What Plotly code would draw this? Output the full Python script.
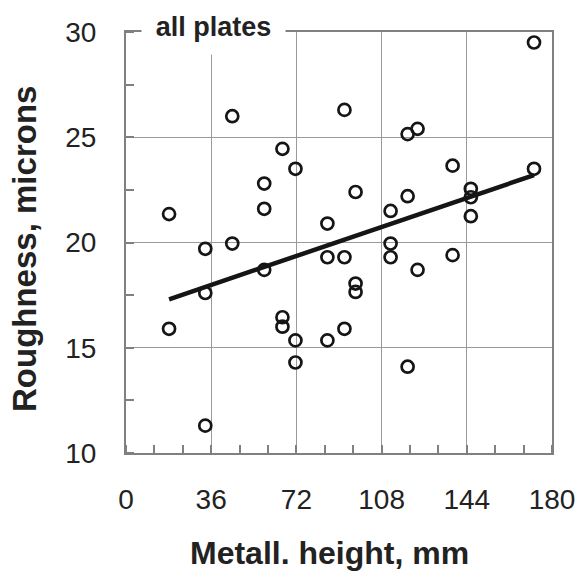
import plotly.graph_objects as go

# Data
height_mm = [18.2, 18.2, 33.5, 33.5, 33.5, 44.9, 44.9, 58.4, 58.4, 58.4,
             66.1, 66.1, 66.1, 71.6, 71.6, 71.6, 85.1, 85.1, 85.1,
             92.3, 92.3, 92.3, 97.0, 97.0, 97.0, 111.8, 111.8, 111.8,
             119.0, 119.0, 119.0, 123.2, 123.2, 138.0, 138.0,
             145.7, 145.7, 145.7, 172.4, 172.4]
roughness_um = [21.35, 15.9, 19.7, 17.6, 11.3, 26.0, 19.95, 22.8, 21.6, 18.7,
                24.45, 16.45, 16.0, 23.5, 15.35, 14.3, 20.9, 19.3, 15.35,
                26.3, 19.3, 15.9, 22.4, 18.05, 17.65, 21.5, 19.95, 19.3,
                25.15, 22.2, 14.1, 25.4, 18.7, 23.65, 19.4,
                22.55, 22.15, 21.25, 29.5, 23.5]
trend_x = [18.2, 172.4]
trend_y = [17.3, 23.2]
x_ticks = [0, 36, 72, 108, 144, 180]
y_ticks = [10, 15, 20, 25, 30]

FONT = "Liberation Sans, Arial, sans-serif"
TXT = "#222222"
FRAME = "#808080"
GRID = "#9a9a9a"

fig = go.Figure()
fig.add_trace(go.Scatter(
    x=height_mm, y=roughness_um, mode="markers",
    marker=dict(symbol="circle-open", size=12, color="#151515",
                line=dict(width=2.7, color="#151515")),
    showlegend=False, hoverinfo="skip"))
fig.add_trace(go.Scatter(
    x=trend_x, y=trend_y, mode="lines",
    line=dict(color="#151515", width=4.5),
    showlegend=False, hoverinfo="skip"))

fig.update_layout(
    width=588, height=571,
    margin=dict(l=126, r=36, t=32, b=118),
    paper_bgcolor="white", plot_bgcolor="white",
    font=dict(family=FONT, color=TXT),
    xaxis=dict(range=[0, 180], tickvals=x_ticks, ticktext=[str(v) for v in x_ticks],
               showgrid=True, gridcolor=GRID, gridwidth=1,
               showline=True, linecolor=FRAME, linewidth=2, mirror=True,
               ticks="", ticklabelstandoff=20,
               tickfont=dict(size=28, color=TXT, family=FONT),
               minor=dict(dtick=12, tick0=0, ticks="inside", ticklen=8,
                          tickcolor=FRAME, tickwidth=1.5, showgrid=False),
               zeroline=False, fixedrange=True),
    yaxis=dict(range=[10, 30], tickvals=y_ticks, ticktext=[str(v) for v in y_ticks],
               showgrid=True, gridcolor=GRID, gridwidth=1,
               showline=True, linecolor=FRAME, linewidth=2, mirror=True,
               ticks="", ticklabelstandoff=22,
               tickfont=dict(size=28, color=TXT, family=FONT),
               minor=dict(dtick=2.5, tick0=10, ticks="inside", ticklen=8,
                          tickcolor=FRAME, tickwidth=1.5, showgrid=False),
               zeroline=False, fixedrange=True),
)

fig.add_annotation(
    text="<b>all plates</b>", xref="paper", yref="paper",
    x=(213.5 - 126) / 426, y=1 + (32 - 27) / 421,
    xanchor="center", yanchor="middle", showarrow=False,
    width=139, height=50, borderpad=2, bgcolor="white",
    font=dict(size=27, color=TXT, family=FONT))

fig.add_annotation(
    text="<b>Metall. height, mm</b>", xref="paper", yref="paper",
    x=(329 - 126) / 426, y=-(553 - 453) / 421,
    xanchor="center", yanchor="middle", showarrow=False,
    font=dict(size=32, color=TXT, family=FONT))

fig.add_annotation(
    text="<b>Roughness, microns</b>", xref="paper", yref="paper",
    x=(25 - 126) / 426, y=(453 - 249) / 421,
    xanchor="center", yanchor="middle", showarrow=False, textangle=-90,
    font=dict(size=33, color=TXT, family=FONT))

fig.write_html("out.html")
